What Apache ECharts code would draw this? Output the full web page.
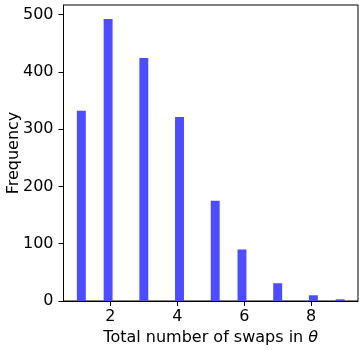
<!DOCTYPE html>
<html>
<head>
<meta charset="utf-8">
<script src="https://cdn.jsdelivr.net/npm/echarts@6/dist/echarts.min.js"></script>
<style>
html,body{margin:0;padding:0;background:#fff;}
#chart{width:359px;height:350px;}
</style>
</head>
<body>
<div id="chart"></div>
<script>
// Histogram bins (left edges) and width, and counts
const binStarts = [1.0, 1.8, 2.8667, 3.9333, 5.0, 5.8, 6.8667, 7.9333, 8.7333];
const binWidth = 0.2667;
const frequencies = [332, 492, 424, 321, 175, 90, 31, 10, 3];
const xTicks = [2, 4, 6, 8];
const yTicks = [0, 100, 200, 300, 400, 500];

const data = binStarts.map((s, i) => [s, s + binWidth, frequencies[i]]);

const chart = echarts.init(document.getElementById('chart'), null, {renderer: 'canvas'});
const font = 'DejaVu Sans';
chart.setOption({
  animation: false,
  backgroundColor: '#fff',
  grid: {left: 63.5, right: 1, top: 5, bottom: 49, show: true, borderColor: '#000', borderWidth: 1,
         containLabel: false, outerBoundsMode: 'none'},
  xAxis: {
    type: 'value', min: 0.6, max: 9.4,
    name: 'Total number of swaps in {i|θ}', nameLocation: 'middle', nameGap: 26,
    nameTextStyle: {fontFamily: font, fontSize: 16, color: '#000',
      rich: {i: {fontFamily: font, fontSize: 16, fontStyle: 'italic', color: '#000'}}},
    axisLine: {show: true, onZero: false, lineStyle: {color: '#000', width: 1}},
    axisTick: {show: true, length: 5, customValues: xTicks, lineStyle: {color: '#000'}},
    axisLabel: {customValues: xTicks, fontFamily: font, fontSize: 16, color: '#000', margin: 8},
    splitLine: {show: false}
  },
  yAxis: {
    type: 'value', min: 0, max: 516.6,
    name: 'Frequency', nameLocation: 'middle', nameGap: 42, nameMoveOverlap: false,
    nameTextStyle: {fontFamily: font, fontSize: 16, color: '#000'},
    axisLine: {show: true, lineStyle: {color: '#000', width: 1}},
    axisTick: {show: true, length: 5, customValues: yTicks, lineStyle: {color: '#000'}},
    axisLabel: {customValues: yTicks, fontFamily: font, fontSize: 16, color: '#000', margin: 10},
    splitLine: {show: false}
  },
  series: [{
    type: 'custom',
    data: data,
    encode: {x: [0, 1], y: 2},
    renderItem: function (params, api) {
      const p0 = api.coord([api.value(0), 0]);
      const p1 = api.coord([api.value(1), api.value(2)]);
      return {
        type: 'rect',
        shape: {x: p0[0], y: p1[1], width: p1[0] - p0[0], height: p0[1] - p1[1]},
        style: {fill: '#4d4dff'}
      };
    }
  }]
});
</script>
</body>
</html>
